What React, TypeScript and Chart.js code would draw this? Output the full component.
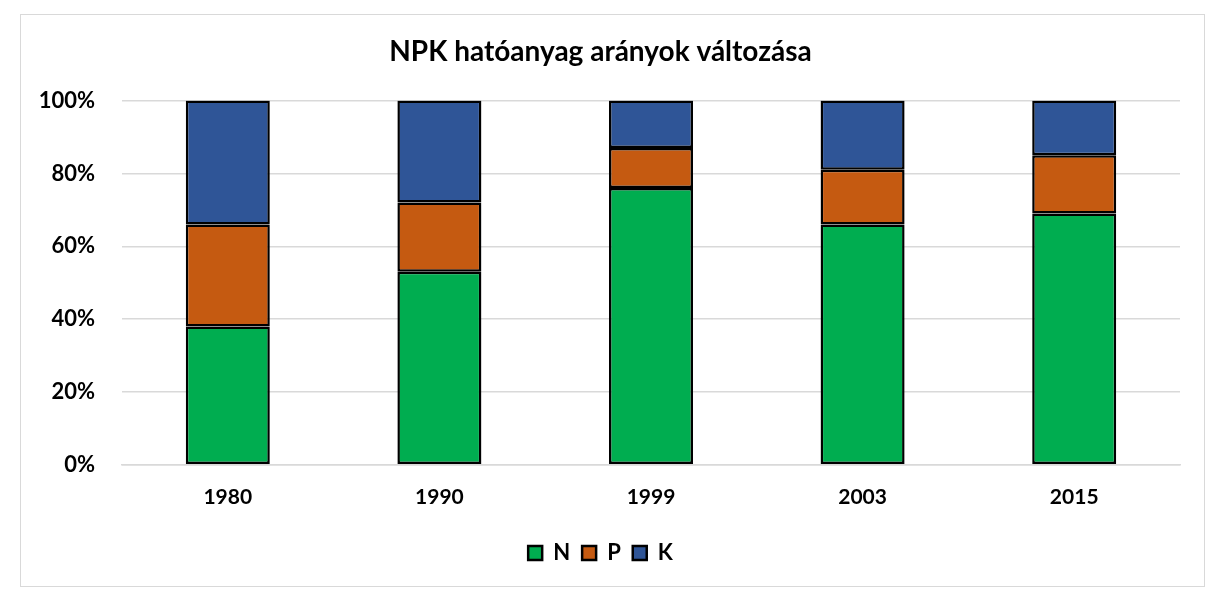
import React, { useEffect, useRef } from "react";
import { Chart, registerables } from "chart.js";

Chart.register(...registerables);

const years = ["1980", "1990", "1999", "2003", "2015"];
const nValues = [38, 53, 76, 66, 69];
const pValues = [28, 19, 11, 15, 16];
const kValues = [34, 28, 13, 19, 15];
const yTicks = [0, 20, 40, 60, 80, 100];

const FONT = "Lato, 'Open Sans', sans-serif";

export default function App() {
  const ref = useRef<HTMLCanvasElement>(null);
  useEffect(() => {
    if (!ref.current) return;
    const chart = new Chart(ref.current, {
      type: "bar",
      data: {
        labels: years,
        datasets: [
          { label: "N", data: nValues, backgroundColor: "#00ad50", borderColor: "#000", borderWidth: 2.5, borderSkipped: false },
          { label: "P", data: pValues, backgroundColor: "#c55a11", borderColor: "#000", borderWidth: 2.5, borderSkipped: false },
          { label: "K", data: kValues, backgroundColor: "#2f5597", borderColor: "#000", borderWidth: 2.5, borderSkipped: false },
        ],
      },
      options: {
        animation: false,
        responsive: false,
        maintainAspectRatio: false,
        layout: { padding: { left: 0, right: 24, top: 20, bottom: 12 } },
        datasets: { bar: { categoryPercentage: 1, barPercentage: 0.397 } },
        plugins: {
          title: {
            display: true,
            text: "NPK hatóanyag arányok változása",
            color: "#000",
            font: { family: FONT, size: 28, weight: "bold" },
            padding: { top: 0, bottom: 32 },
          },
          legend: {
            position: "bottom",
            labels: {
              color: "#000",
              font: { family: FONT, size: 22, weight: "bold" },
              boxWidth: 14,
              boxHeight: 14,
              padding: 12,
            },
          },
          tooltip: { enabled: false },
        },
        scales: {
          x: {
            stacked: true,
            grid: { display: false, drawTicks: false },
            border: { color: "#d9d9d9", width: 1.5 },
            ticks: { color: "#000", font: { family: FONT, size: 21, weight: "bold" }, padding: 20 },
          },
          y: {
            stacked: true,
            min: 0,
            max: 100,
            afterFit: (s: any) => { s.width = 101; },
            afterBuildTicks: (s: any) => { s.ticks = yTicks.map((v) => ({ value: v })); },
            grid: { color: "#d9d9d9", lineWidth: 1.5, drawTicks: false },
            border: { display: false },
            ticks: {
              color: "#000",
              font: { family: FONT, size: 22, weight: "bold" },
              padding: 27,
              callback: (v: any) => v + "%",
            },
          },
        },
      },
    });
    return () => chart.destroy();
  }, []);
  return (
    <div
      style={{
        position: "absolute",
        left: 20,
        top: 14,
        width: 1183,
        height: 571,
        border: "1.5px solid #d9d9d9",
        background: "#fff",
      }}
    >
      <canvas ref={ref} width={1183} height={571} style={{ display: "block" }} />
    </div>
  );
}
